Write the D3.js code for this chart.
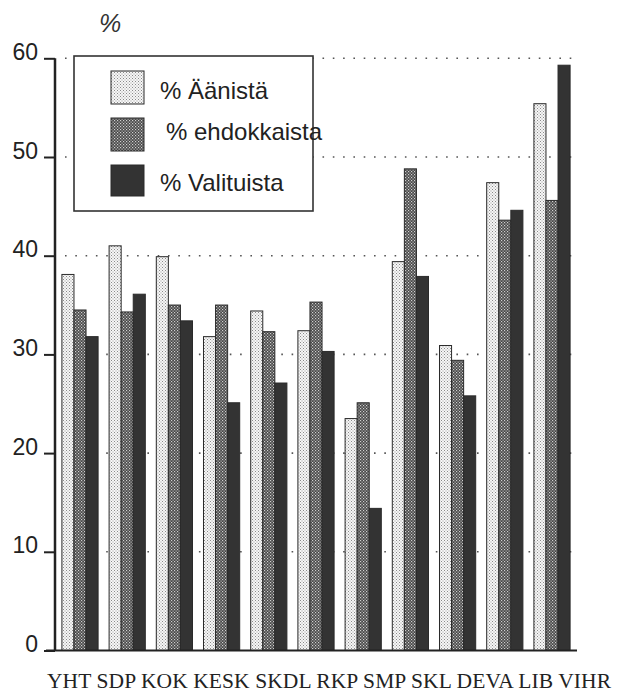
<!DOCTYPE html>
<html><head><meta charset="utf-8">
<script src="https://cdn.jsdelivr.net/npm/d3@7"></script>
<style>body{margin:0;background:#fff}svg{display:block}</style>
</head><body>
<script>
const categories = ["YHT","SDP","KOK","KESK","SKDL","RKP","SMP","SKL","DEVA","LIB","VIHR"];
const seriesNames = ["% Äänistä","% ehdokkaista","% Valituista"];
const aanista     = [38.1, 41.0, 39.9, 31.8, 34.4, 32.4, 23.5, 39.4, 30.9, 47.4, 55.4];
const ehdokkaista = [34.5, 34.3, 35.0, 35.0, 32.3, 35.3, 25.1, 48.8, 29.4, 43.6, 45.6];
const valituista  = [31.8, 36.1, 33.4, 25.1, 27.1, 30.3, 14.4, 37.9, 25.8, 44.6, 59.3];
const yTicks = [0,10,20,30,40,50,60];
const gridTicks = [10,20,30,40,50,60];
const seriesValues = [aanista, ehdokkaista, valituista];

const W = 617, H = 694;
const svg = d3.select("body").append("svg").attr("width", W).attr("height", H);
const defs = svg.append("defs");

const p1 = defs.append("pattern").attr("id","pLight").attr("patternUnits","userSpaceOnUse").attr("width",3).attr("height",3);
p1.append("rect").attr("width",3).attr("height",3).attr("fill","#f6f6f6");
p1.append("rect").attr("x",0).attr("y",0).attr("width",1).attr("height",1).attr("fill","#8a8a8a");
p1.append("rect").attr("x",1.5).attr("y",1.5).attr("width",1).attr("height",1).attr("fill","#9a9a9a");
const p2 = defs.append("pattern").attr("id","pMed").attr("patternUnits","userSpaceOnUse").attr("width",3).attr("height",3);
p2.append("rect").attr("width",3).attr("height",3).attr("fill","#484848");
p2.append("rect").attr("x",0).attr("y",0).attr("width",1.2).attr("height",1.2).attr("fill","#d0d0d0");
p2.append("rect").attr("x",1.5).attr("y",1.5).attr("width",1.2).attr("height",1.2).attr("fill","#c0c0c0");

const fills = ["url(#pLight)","url(#pMed)","#333333"];

const y = d3.scaleLinear().domain([0,60]).range([650.5, 58.3]);
const x0 = d3.scaleBand().domain(categories).range([56.4, 575.6]).paddingInner(0.233).paddingOuter(0.1165);
const x1 = d3.scaleBand().domain(d3.range(3)).range([0, x0.bandwidth()]);

svg.append("g").selectAll("line").data(gridTicks).join("line")
  .attr("x1", 65).attr("x2", 576)
  .attr("y1", d => y(d)).attr("y2", d => y(d))
  .attr("stroke", "#555").attr("stroke-width", 1.6)
  .attr("stroke-dasharray", "1.6 8.7");

const g = svg.append("g");
categories.forEach((c, i) => {
  seriesValues.forEach((vals, s) => {
    g.append("rect")
      .attr("x", x0(c) + x1(s))
      .attr("y", y(vals[i]))
      .attr("width", x1.bandwidth())
      .attr("height", y(0) - y(vals[i]))
      .attr("fill", fills[s])
      .attr("stroke", "#2a2a2a").attr("stroke-width", 1);
  });
});

const yAxis = d3.axisLeft(y).tickValues(yTicks).tickSize(11).tickFormat(d3.format("d")).tickPadding(6);
const ya = svg.append("g").attr("transform","translate(55,0)").call(yAxis);
ya.select(".domain").attr("stroke","#222").attr("stroke-width",2.5).attr("d", `M0,${y(60)}V${y(0)}`);
ya.selectAll(".tick line").attr("stroke","#222").attr("stroke-width",2);
ya.selectAll(".tick text").attr("font-family","Liberation Sans, Arial, sans-serif")
  .attr("font-size",23).attr("fill","#222").attr("dy","0").attr("y", 1);

svg.append("line").attr("x1",46).attr("x2",577).attr("y1",y(0)).attr("y2",y(0))
  .attr("stroke","#222").attr("stroke-width",2.2);

svg.append("text").attr("x",110).attr("y",32).attr("text-anchor","middle")
  .attr("font-family","Liberation Sans, Arial, sans-serif").attr("font-style","italic")
  .attr("font-size",25).attr("fill","#333").text("%");

svg.append("text").attr("x",47).attr("y",688)
  .attr("font-family","Liberation Serif, Times New Roman, serif")
  .attr("font-size",21.5).attr("fill","#222")
  .attr("textLength",564).attr("lengthAdjust","spacing")
  .text(categories.join(" "));

const lg = svg.append("g");
lg.append("rect").attr("x",74).attr("y",56).attr("width",239).attr("height",155)
  .attr("fill","#fff").attr("stroke","#333").attr("stroke-width",1.6);
const swY = [71, 118, 165];
const txX = [160, 166, 160];
const txY = [99, 140, 191];
seriesNames.forEach((nm, s) => {
  lg.append("rect").attr("x",111).attr("y",swY[s]).attr("width",33).attr("height",s===2?31:33)
    .attr("fill",fills[s]).attr("stroke","#2a2a2a").attr("stroke-width",1);
  lg.append("text").attr("x",txX[s]).attr("y",txY[s])
    .attr("font-family","Liberation Sans, Arial, sans-serif").attr("font-size",24)
    .attr("fill","#222").text(nm);
});
</script>
</body></html>
